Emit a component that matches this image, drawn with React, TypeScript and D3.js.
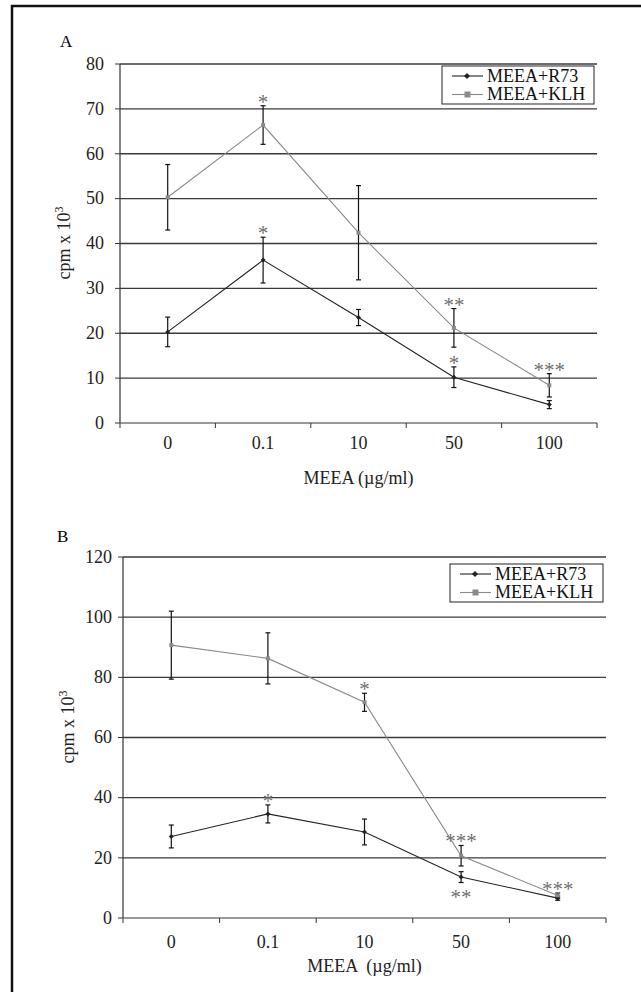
import React from "react";
import * as d3 from "d3";

// doses on x axis
const doses = ["0", "0.1", "10", "50", "100"];
const seriesNames = ["MEEA+R73", "MEEA+KLH"];

// panel A (cpm x 10^3)
const aR73 = [20.3, 36.3, 23.5, 10.2, 4.1];
const aR73Err = [3.3, 5.1, 1.8, 2.3, 0.9];
const aKLH = [50.3, 66.4, 42.4, 21.2, 8.4];
const aKLHErr = [7.3, 4.3, 10.5, 4.3, 2.6];
const aStarsR73 = ["", "*", "", "*", ""];
const aStarsKLH = ["", "*", "", "**", "***"];

// panel B
const bR73 = [27.1, 34.6, 28.6, 13.6, 6.6];
const bR73Err = [3.8, 3.0, 4.3, 1.8, 0.7];
const bKLH = [90.7, 86.3, 71.7, 20.7, 7.5];
const bKLHErr = [11.3, 8.5, 3.0, 3.4, 0.8];
const bStarsR73 = ["", "*", "", "**", ""];
const bStarsR73Below = [false, false, false, true, false];
const bStarsKLH = ["", "", "*", "***", "***"];

const FONT = "'Liberation Serif', 'Times New Roman', serif";
const DARK = "#222";
const GREY = "#8a8a8a";
const STAR = "#707070";
const FS = 18;

type PanelProps = {
  label: string;
  labelX: number;
  labelY: number;
  left: number;
  right: number;
  top: number;
  bottom: number;
  yMax: number;
  yStep: number;
  tickLabelX: number;
  titleX: number;
  titleY: number;
  xLabelY: number;
  xTitleY: number;
  xTitle: string;
  legend: { x: number; y: number; w: number; h: number };
  r73: number[];
  r73Err: number[];
  klh: number[];
  klhErr: number[];
  starsR73: string[];
  starsR73Below?: boolean[];
  starsKLH: string[];
};

function Panel(p: PanelProps) {
  const x = d3.scaleBand().domain(doses).range([p.left, p.right]).padding(0);
  const cx = (d: string) => (x(d) as number) + x.bandwidth() / 2;
  const y = d3.scaleLinear().domain([0, p.yMax]).range([p.bottom, p.top]);
  const ticks = d3.range(0, p.yMax + 0.001, p.yStep);
  const line = d3
    .line<number>()
    .x((_, i) => cx(doses[i]))
    .y((d) => y(d));

  const series = [
    { vals: p.r73, err: p.r73Err, color: DARK, stars: p.starsR73, below: p.starsR73Below },
    { vals: p.klh, err: p.klhErr, color: GREY, stars: p.starsKLH, below: undefined as boolean[] | undefined },
  ];

  const boundaries = doses.map((d) => x(d) as number).concat([p.right]);

  return (
    <g fontFamily={FONT}>
      <text x={p.labelX} y={p.labelY} fontSize={17}>{p.label}</text>

      {/* gridlines + y ticks */}
      {ticks.map((t) => (
        <g key={t}>
          {t > 0 && (
            <line x1={p.left} x2={p.right} y1={y(t)} y2={y(t)} stroke="#3a3a3a" strokeWidth={1.3} />
          )}
          <line x1={p.left - 5} x2={p.left} y1={y(t)} y2={y(t)} stroke="#333" strokeWidth={1} />
          <text x={p.tickLabelX} y={y(t)} dy="0.32em" textAnchor="end" fontSize={FS} fill="#222">
            {t}
          </text>
        </g>
      ))}

      {/* axes */}
      <line x1={p.left} x2={p.left} y1={p.top} y2={p.bottom} stroke="#333" strokeWidth={1.2} />
      <line x1={p.left} x2={p.right} y1={p.bottom} y2={p.bottom} stroke="#777" strokeWidth={1.5} />
      {boundaries.map((b, i) => (
        <line key={i} x1={b} x2={b} y1={p.bottom} y2={p.bottom + 5} stroke="#333" strokeWidth={1} />
      ))}
      {doses.map((d) => (
        <text key={d} x={cx(d)} y={p.xLabelY} textAnchor="middle" fontSize={FS} fill="#222">
          {d}
        </text>
      ))}
      <text x={(p.left + p.right) / 2} y={p.xTitleY} textAnchor="middle" fontSize={FS} fill="#222" style={{ whiteSpace: "pre" }}>
        {p.xTitle}
      </text>
      <text
        transform={`translate(${p.titleX},${p.titleY}) rotate(-90)`}
        textAnchor="middle"
        fontSize={FS}
        fill="#222"
      >
        cpm x 10<tspan fontSize={12} dy={-7}>3</tspan>
      </text>

      {/* lines, markers, error bars, stars */}
      {series
        .slice()
        .reverse()
        .map((s, si) => (
          <g key={si}>
            <path d={line(s.vals) || ""} fill="none" stroke={s.color} strokeWidth={1.1} />
          </g>
        ))}
      {series.map((s, si) =>
        s.vals.map((v, i) => {
          const px = cx(doses[i]);
          const hi = y(v + s.err[i]);
          const lo = y(v - s.err[i]);
          const star = s.stars[i];
          const below = s.below ? s.below[i] : false;
          return (
            <g key={`${si}-${i}`}>
              <line x1={px} x2={px} y1={hi} y2={lo} stroke="#111" strokeWidth={1.2} />
              <line x1={px - 2.5} x2={px + 2.5} y1={hi} y2={hi} stroke="#111" strokeWidth={1.2} />
              <line x1={px - 2.5} x2={px + 2.5} y1={lo} y2={lo} stroke="#111" strokeWidth={1.2} />
              {si === 0 ? (
                <path d={`M${px},${y(v) - 2.5}L${px + 2.5},${y(v)}L${px},${y(v) + 2.5}L${px - 2.5},${y(v)}Z`} fill={DARK} />
              ) : (
                <rect x={px - 2} y={y(v) - 2} width={4} height={4} fill={GREY} />
              )}
              {star && (
                <text x={px} y={below ? lo + 21 : hi + 3} textAnchor="middle" fontSize={21} fill={STAR}>
                  {star}
                </text>
              )}
            </g>
          );
        })
      )}

      {/* legend */}
      <rect x={p.legend.x} y={p.legend.y} width={p.legend.w} height={p.legend.h} fill="#fff" stroke="#222" strokeWidth={1} />
      {seriesNames.map((n, i) => {
        const ly = p.legend.y + 10 + i * 18.5;
        const lx = p.legend.x + 10;
        const col = i === 0 ? DARK : GREY;
        return (
          <g key={n}>
            <line x1={lx} x2={lx + 31} y1={ly} y2={ly} stroke={col} strokeWidth={1.1} />
            {i === 0 ? (
              <path d={`M${lx + 15},${ly - 3}L${lx + 18},${ly}L${lx + 15},${ly + 3}L${lx + 12},${ly}Z`} fill={DARK} />
            ) : (
              <rect x={lx + 12.5} y={ly - 3} width={6} height={6} fill={GREY} />
            )}
            <text x={lx + 35} y={ly} dy="0.33em" fontSize={FS} fill="#111">
              {n}
            </text>
          </g>
        );
      })}
    </g>
  );
}

export default function App() {
  return (
    <svg
      width={641}
      height={992}
      style={{ position: "absolute", left: 0, top: 0, background: "#fff" }}
    >
      <rect x={12} y={6} width={700} height={1100} fill="none" stroke="#111" strokeWidth={2.5} />
      <Panel
        label="A"
        labelX={60}
        labelY={47}
        left={120}
        right={597}
        top={64}
        bottom={423}
        yMax={80}
        yStep={10}
        tickLabelX={104}
        titleX={70}
        titleY={243}
        xLabelY={449}
        xTitleY={484}
        xTitle="MEEA (µg/ml)"
        legend={{ x: 442, y: 66, w: 152, h: 38 }}
        r73={aR73}
        r73Err={aR73Err}
        klh={aKLH}
        klhErr={aKLHErr}
        starsR73={aStarsR73}
        starsKLH={aStarsKLH}
      />
      <Panel
        label="B"
        labelX={57}
        labelY={542}
        left={123}
        right={606}
        top={557}
        bottom={918}
        yMax={120}
        yStep={20}
        tickLabelX={112}
        titleX={74}
        titleY={727}
        xLabelY={948}
        xTitleY={972}
        xTitle="MEEA  (µg/ml)"
        legend={{ x: 450, y: 564, w: 153, h: 38 }}
        r73={bR73}
        r73Err={bR73Err}
        klh={bKLH}
        klhErr={bKLHErr}
        starsR73={bStarsR73}
        starsR73Below={bStarsR73Below}
        starsKLH={bStarsKLH}
      />
    </svg>
  );
}
